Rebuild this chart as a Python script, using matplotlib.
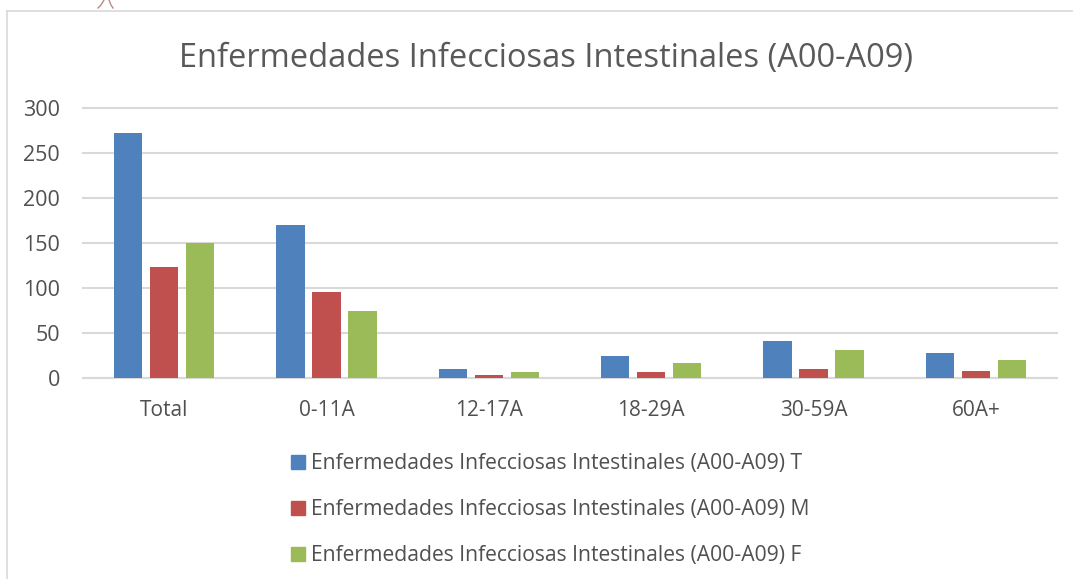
import matplotlib.pyplot as plt
import numpy as np

plt.rcParams['font.family'] = ['Open Sans', 'DejaVu Sans']

W, H = 1073, 579

categories = ['Total', '0-11A', '12-17A', '18-29A', '30-59A', '60A+']
total = [273, 170, 10, 24, 41, 28]
male = [124, 96, 3, 7, 10, 8]
female = [150, 75, 7, 17, 31, 20]
series_names = ['Enfermedades Infecciosas Intestinales (A00-A09) T',
                'Enfermedades Infecciosas Intestinales (A00-A09) M',
                'Enfermedades Infecciosas Intestinales (A00-A09) F']
colors = ['#4f81bd', '#c0504d', '#9bbb59']
yticks = [0, 50, 100, 150, 200, 250, 300]

fig = plt.figure(figsize=(W / 100, H / 100), dpi=100)
ax = fig.add_axes([83 / W, 1 - 378 / H, (1057 - 83) / W, (378 - 108.5) / H])

x = np.arange(len(categories))
step = 36 / 162.2
width = 28.5 / 162.2
for i, vals in enumerate([total, male, female]):
    ax.bar(x + (i - 1) * step, vals, width, color=colors[i], zorder=3)

ax.set_xlim(-0.5, 5.5)
ax.set_ylim(0, 300)
ax.set_xticks(x)
ax.set_xticklabels(categories, fontsize=15, color='#505050')
ax.set_yticks(yticks)
ax.tick_params(axis='y', length=0, labelsize=15.5, labelcolor='#505050', pad=16.5)
ax.tick_params(axis='x', length=0, pad=16)
ax.grid(axis='y', color='#d9d9d9', lw=1.5, zorder=0, clip_on=False)
for s in ['top', 'left', 'right']:
    ax.spines[s].set_visible(False)
ax.spines['bottom'].set_color('#d9d9d9')
ax.spines['bottom'].set_linewidth(1.5)

fig.text(546 / W, 1 - 59 / H, 'Enfermedades Infecciosas Intestinales (A00-A09)',
         fontsize=23.5, color='#595959', ha='center', va='center')

# legend, stacked by hand to keep the wide spacing
for name, c, y in zip(series_names, colors, [462, 508, 554]):
    fig.patches.append(plt.Rectangle((291 / W, 1 - (y + 7) / H), 14 / W, 14 / H,
                                     transform=fig.transFigure, color=c))
    fig.text(311 / W, 1 - (y + 2) / H, name, fontsize=15.2, color='#505050', va='center')

# outer frame of the pasted chart, open on the right
fig.add_artist(plt.Line2D([6.5 / W, 6.5 / W], [0, 1 - 10.5 / H], color='#d9d9d9', lw=1.2))
fig.add_artist(plt.Line2D([6.5 / W, 1], [1 - 10.5 / H, 1 - 10.5 / H], color='#d9d9d9', lw=1.2))

# bit of a logo cut off above the frame
fig.add_artist(plt.Line2D([104 / W, 101 / W, 98 / W], [1, 1 - 5 / H, 1 - 8 / H], color='#b98a8a', lw=1))
fig.add_artist(plt.Line2D([109 / W, 111 / W, 113 / W], [1, 1 - 5 / H, 1 - 8 / H], color='#b98a8a', lw=1))

plt.savefig('out.png', dpi=100)
